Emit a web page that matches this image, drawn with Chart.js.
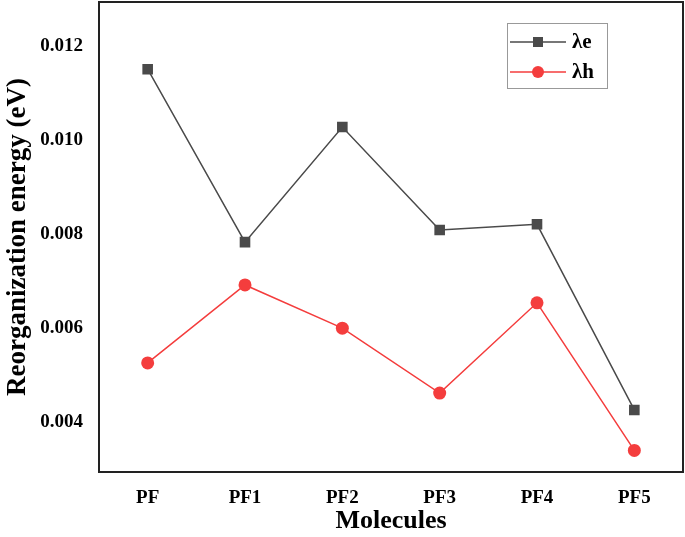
<!DOCTYPE html>
<html>
<head>
<meta charset="utf-8">
<script src="https://cdn.jsdelivr.net/npm/chart.js@4"></script>
<style>
  html, body { margin: 0; padding: 0; background: #fff; }
  #wrap { width: 685px; height: 537px; }
</style>
</head>
<body>
<div id="wrap"><canvas id="reorg"></canvas></div>
<script>
// data
const molecules = ['PF', 'PF1', 'PF2', 'PF3', 'PF4', 'PF5'];
const lambdaE = [0.01151, 0.00783, 0.01028, 0.00809, 0.00821, 0.00426];
const lambdaH = [0.00526, 0.00692, 0.00600, 0.00462, 0.00654, 0.00340];
const yTicks = [0.004, 0.006, 0.008, 0.010, 0.012];

const serif = '"Liberation Serif", "Times New Roman", serif';
const grey = '#4a4a4a';
const red = '#f43d3d';

// frame round the plot area + the legend box in the upper right
const framePlugin = {
	id: 'frame',
	afterDraw(chart) {
		const ctx = chart.ctx;
		const a = chart.chartArea;
		ctx.save();
		ctx.strokeStyle = '#222';
		ctx.lineWidth = 2;
		ctx.strokeRect(a.left, a.top, a.right - a.left, a.bottom - a.top);

		// legend
		ctx.strokeStyle = '#999';
		ctx.lineWidth = 1;
		ctx.strokeRect(507.5, 23.5, 100, 65);
		chart.data.datasets.forEach(function (ds, i) {
			let y = 42 + i * 30;
			ctx.strokeStyle = ds.borderColor;
			ctx.lineWidth = 1.5;
			ctx.beginPath();
			ctx.moveTo(510, y);
			ctx.lineTo(566, y);
			ctx.stroke();
			ctx.fillStyle = ds.backgroundColor;
			if (ds.pointStyle === 'rect') {
				ctx.fillRect(533, y - 5, 10, 10);
			} else {
				ctx.beginPath();
				ctx.arc(538, y, 6, 0, Math.PI * 2);
				ctx.fill();
			}
			ctx.fillStyle = '#000';
			ctx.font = 'bold 21px ' + serif;
			ctx.textBaseline = 'middle';
			ctx.fillText(ds.label, 572, y + 1);
		});
		ctx.restore();
	}
};

function noPad(scale) {
	scale.paddingTop = 0;
	scale.paddingBottom = 0;
	scale.paddingLeft = 0;
	scale.paddingRight = 0;
}

new Chart(document.getElementById('reorg').getContext('2d'), {
	type: 'line',
	data: {
		labels: molecules,
		datasets: [
			{
				label: 'λe',
				data: lambdaE,
				borderColor: grey,
				backgroundColor: grey,
				borderWidth: 1.5,
				pointStyle: 'rect',
				pointRadius: 7.5,
				pointBorderWidth: 0,
				tension: 0
			},
			{
				label: 'λh',
				data: lambdaH,
				borderColor: red,
				backgroundColor: red,
				borderWidth: 1.5,
				pointStyle: 'circle',
				pointRadius: 6.5,
				pointBorderWidth: 0,
				tension: 0
			}
		]
	},
	options: {
		responsive: true,
		maintainAspectRatio: false,
		animation: false,
		layout: { autoPadding: false, padding: { top: 2, right: 2, left: 0, bottom: 0 } },
		plugins: {
			legend: { display: false },
			tooltip: { enabled: false }
		},
		scales: {
			x: {
				offset: true,
				grid: { display: false, drawTicks: false },
				border: { display: false },
				ticks: {
					color: '#000',
					padding: 15,
					font: { family: serif, size: 19, weight: 'bold' }
				},
				title: {
					display: true,
					text: 'Molecules',
					color: '#000',
					padding: { top: 4, bottom: 0 },
					font: { family: serif, size: 26, weight: 'bold' }
				},
				afterFit: function (scale) { scale.height = 65; noPad(scale); }
			},
			y: {
				min: 0.00294,
				max: 0.01294,
				grid: { display: false, drawTicks: false },
				border: { display: false },
				afterBuildTicks: function (scale) {
					scale.ticks = yTicks.map(v => ({ value: v }));
				},
				ticks: {
					color: '#000',
					padding: 16,
					font: { family: serif, size: 19, weight: 'bold' },
					callback: function (v) { return v.toFixed(3); }
				},
				title: {
					display: true,
					text: 'Reorganization energy (eV)',
					color: '#000',
					padding: { top: 2, bottom: 4 },
					font: { family: serif, size: 27, weight: 'bold' }
				},
				afterFit: function (scale) { scale.width = 99; noPad(scale); }
			}
		}
	},
	plugins: [framePlugin]
});
</script>
</body>
</html>
